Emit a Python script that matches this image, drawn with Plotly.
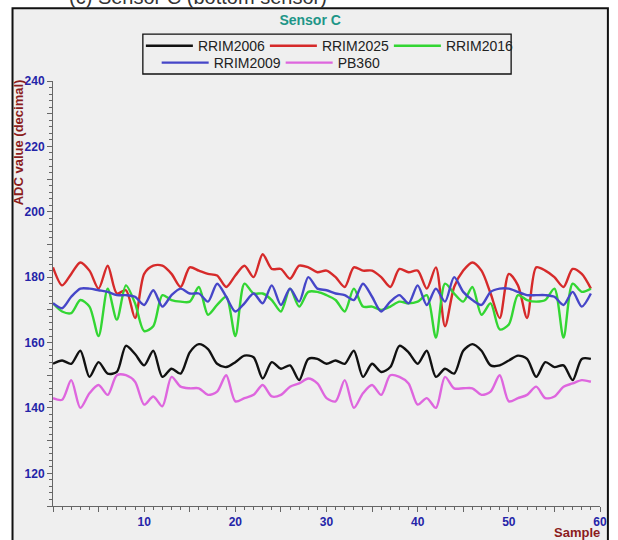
import plotly.graph_objects as go

samples = list(range(60))

rrim2006 = [153.5, 154.5, 153.5, 157.5, 149.5, 154, 150.5, 151, 159, 156.5,
            153, 157.5, 149.5, 152, 150.5, 157, 159.5, 158, 153.5, 152.5,
            154, 156, 155.5, 149, 154, 152, 153, 148.5, 155, 155,
            153.5, 154.5, 153.5, 157.5, 149.5, 153.5, 151, 152.5, 159, 157,
            153.5, 157.5, 149.5, 152, 150.5, 157.5, 159.5, 157.5, 153, 153,
            154.5, 156, 155, 149.5, 154, 152.5, 153, 148.5, 155, 155]

rrim2025 = [183, 177.5, 181, 184.5, 182, 176.5, 183.5, 175, 176, 167.5,
            181, 183.5, 183.5, 181, 177, 183, 182, 181, 180.5, 177,
            180.5, 183.5, 180, 187, 182.5, 182.5, 179.5, 183.5, 183, 181.5,
            182, 180, 177, 183, 182, 182, 180, 177, 182.5, 181.5,
            182, 176.5, 183, 165, 177, 182, 184.5, 182, 175, 167.5,
            181, 177.5, 167.5, 183, 182, 180, 177, 182.5, 181, 176.5]

rrim2016 = [172, 169.5, 169, 173, 171, 162, 176.5, 167, 177.5, 172,
            163.5, 165, 174.5, 173, 172.5, 172.5, 177, 168.5, 171.5, 174,
            162, 178, 175, 175, 173, 169.5, 176.5, 171, 175.5, 175.5,
            174.5, 173, 169.5, 176.5, 171, 171, 170, 171, 172.5, 172,
            172.5, 174.5, 161.5, 178, 175, 172.5, 177, 168.5, 172, 164,
            165.5, 174.5, 173, 172.5, 173, 176.5, 161.5, 178, 175.5, 176.5]

rrim2009 = [172, 170.5, 174, 176.5, 176.5, 176, 175.5, 174.5, 174.5, 174,
            171.5, 176, 171, 174.5, 176.5, 175, 175, 172.5, 178, 174,
            169.5, 172, 175, 172, 177.5, 171.5, 176.5, 172.5, 180, 176.5,
            176, 175, 174.5, 173, 178, 174, 169.5, 172.5, 174.5, 172,
            177.5, 171.5, 176.5, 172.5, 180, 175.5, 173, 171.5, 175.5, 176.5,
            176.5, 175.5, 174.5, 174.5, 174.5, 174, 171.5, 175.5, 171, 175]

pb360 = [143, 142.5, 148.5, 140, 144.5, 147, 144, 150, 150, 148,
         141, 143.5, 140.5, 149.5, 146.5, 146, 146, 144, 145, 150,
         142, 143, 144, 147, 143.5, 144, 146.5, 147.5, 149, 147.5,
         143, 142, 148.5, 140, 144.5, 147, 144, 150, 149.5, 147.5,
         141, 143, 140, 149.5, 146, 146, 146, 144, 145, 150,
         142, 143, 144, 146.5, 143, 143.5, 146.5, 147.5, 148.5, 148]

series = [
    ("RRIM2006", rrim2006, "#111111", "legend"),
    ("RRIM2025", rrim2025, "#d62a2a", "legend"),
    ("RRIM2016", rrim2016, "#33d633", "legend"),
    ("RRIM2009", rrim2009, "#4646c8", "legend2"),
    ("PB360", pb360, "#de66de", "legend2"),
]

x_tickvals = list(range(0, 61, 5))
x_ticktext = [str(v) if (v % 10 == 0 and v > 0) else "" for v in x_tickvals]
y_tickvals = list(range(110, 241, 10))
y_ticktext = [str(v) if v % 20 == 0 else "" for v in y_tickvals]

FONT = "Liberation Sans, Arial, sans-serif"
GRAY = "#efefef"

fig = go.Figure()
for name, vals, color, leg in series:
    fig.add_trace(go.Scatter(
        x=samples, y=vals, mode="lines", name=name,
        line=dict(color=color, width=2.4, shape="spline", smoothing=0.8),
        legend=leg,
    ))

# plot-area geometry in px
L, R, T, B = 53, 607, 81, 507
W, H = 618, 540
pw, ph = R - L, B - T

def px(xp):
    return (xp - L) / pw

def py(yp):
    return (B - yp) / ph

tickfont = dict(family=FONT, size=12, color="#2424a8", weight="bold")
legfont = dict(family=FONT, size=14, color="#222")

fig.update_layout(
    width=W, height=H,
    margin=dict(l=L, r=W - R, t=T, b=H - B),
    paper_bgcolor="white",
    plot_bgcolor=GRAY,
    font=dict(family=FONT, color="#222"),
    title=dict(text="Sensor C", x=px(331), xanchor="center", y=1 - 20 / H, yanchor="middle",
               font=dict(family=FONT, size=14, color="#1e9688", weight="bold")),
    xaxis=dict(range=[0, 60], showline=True, linecolor="#666", linewidth=1,
               showgrid=False, zeroline=False, ticks="outside", ticklen=5, tickcolor="#666",
               tickmode="array", tickvals=x_tickvals, ticktext=x_ticktext, tickfont=tickfont,
               minor=dict(dtick=1, ticks="outside", ticklen=3, tickcolor="#666")),
    yaxis=dict(range=[110, 240], showline=True, linecolor="#666", linewidth=1,
               showgrid=False, zeroline=False, ticks="outside", ticklen=5, tickcolor="#666",
               tickmode="array", tickvals=y_tickvals, ticktext=y_ticktext, tickfont=tickfont,
               minor=dict(dtick=2, ticks="outside", ticklen=3, tickcolor="#666")),
    legend=dict(orientation="h", x=px(142), xanchor="left", y=py(46), yanchor="middle",
                bgcolor="rgba(0,0,0,0)", borderwidth=0, itemwidth=47, entrywidth=62,
                font=legfont, tracegroupgap=0),
    legend2=dict(orientation="h", x=px(158), xanchor="left", y=py(63), yanchor="middle",
                 bgcolor="rgba(0,0,0,0)", borderwidth=0, itemwidth=47, entrywidth=62,
                 font=legfont, tracegroupgap=0),
    showlegend=True,
)

# outer frame of the figure panel
fig.add_shape(type="rect", xref="paper", yref="paper",
              x0=px(12), x1=px(615), y0=py(560), y1=py(8),
              line=dict(color="#111", width=2), fillcolor=GRAY, layer="below")
# legend box
fig.add_shape(type="rect", xref="paper", yref="paper",
              x0=px(144), x1=px(517), y0=py(74), y1=py(34),
              line=dict(color="#111", width=1.3), fillcolor="rgba(0,0,0,0)", layer="above")

fig.add_annotation(text="ADC value (decimal)", xref="paper", yref="paper",
                   x=px(18), y=py(142), xanchor="center", yanchor="middle", textangle=-90,
                   showarrow=False, font=dict(family=FONT, size=13, color="#8b1c1c", weight="bold"))
fig.add_annotation(text="Sample", xref="paper", yref="paper",
                   x=px(584), y=py(534), xanchor="center", yanchor="middle",
                   showarrow=False, font=dict(family=FONT, size=13, color="#8b1c1c", weight="bold"))
# caption text cut off at the top of the image
fig.add_annotation(text="(c) Sensor C (bottom sensor)", xref="paper", yref="paper",
                   x=px(200), y=py(10), xanchor="center", yanchor="bottom",
                   showarrow=False, font=dict(family=FONT, size=20, color="#333"))

fig.write_html("out.html", config={"displayModeBar": False},
               post_script="document.body.style.margin='0px';")
